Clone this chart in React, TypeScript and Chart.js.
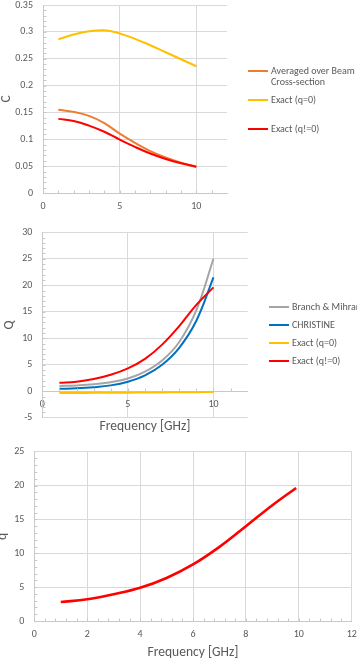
import React, { useEffect, useRef } from 'react';
import { Chart, registerables } from 'chart.js';

Chart.register(...registerables);

// ---------- data ----------
const FREQ = [1, 2, 3, 4, 5, 6, 7, 8, 9, 10];

// Chart 1 (C)
const C_AVERAGED = [0.155, 0.151, 0.1435, 0.13, 0.1105, 0.0935, 0.078, 0.066, 0.0565, 0.049];
const C_EXACT_Q0 = [0.286, 0.295, 0.301, 0.303, 0.297, 0.287, 0.275, 0.262, 0.249, 0.236];
const C_EXACT_QN = [0.138, 0.134, 0.1255, 0.114, 0.0995, 0.0858, 0.0735, 0.0634, 0.0553, 0.049];
const C_X_TICKS = [0, 5, 10];
const C_Y_TICKS = [0, 0.05, 0.1, 0.15, 0.2, 0.25, 0.3, 0.35];

// Chart 2 (Q)
const Q_BRANCH = [1.0, 1.1, 1.3, 1.7, 2.4, 3.7, 5.8, 9.3, 15.3, 25.0];
const Q_CHRISTINE = [0.45, 0.55, 0.75, 1.1, 1.8, 3.0, 5.0, 8.2, 13.3, 21.5];
const Q_EXACT_Q0 = [-0.35, -0.33, -0.31, -0.29, -0.27, -0.25, -0.22, -0.2, -0.18, -0.15];
const Q_EXACT_QN = [1.6, 1.8, 2.3, 3.1, 4.3, 6.1, 8.8, 12.3, 16.3, 19.6];
const Q_X_TICKS = [0, 5, 10];
const Q_Y_TICKS = [-5, 0, 5, 10, 15, 20, 25, 30];

// Chart 3 (q)
const SMALLQ_FREQ = [1, 2, 3, 4, 5, 6, 7, 8, 9, 9.9];
const SMALLQ = [2.8, 3.2, 3.95, 4.9, 6.35, 8.35, 10.95, 14.0, 17.1, 19.65];
const SQ_X_TICKS = [0, 2, 4, 6, 8, 10, 12];
const SQ_Y_TICKS = [0, 5, 10, 15, 20, 25];

// ---------- style ----------
const FONT = 'Calibri, Carlito, Lato, "Open Sans", sans-serif';
const TXT = '#595959';
const GRID = '#D9D9D9';
const AXIS = '#C8C8C8';
const NONE = 'rgba(0,0,0,0)';
const TICK_FONT = { size: 10, lineHeight: 1 };
const TITLE_FONT = { size: 13.5 };

const pts = (xs: number[], ys: number[]) => xs.map((x, i) => ({ x, y: ys[i] }));
const fixTicks = (vals: number[]) => (scale: any) => {
  scale.ticks = vals.map((v) => ({ value: v }));
};
const fmt = (v: any) => String(+Number(v).toFixed(2));

const minorTicksPlugin = {
  id: 'minorTicks',
  afterDraw(chart: any, _args: any, opts: any) {
    if (!opts || !opts.xStep) return;
    const { ctx, chartArea, scales } = chart;
    const xs = scales.x;
    const ys = scales.y;
    const len = opts.len || 3;
    ctx.save();
    ctx.strokeStyle = AXIS;
    ctx.lineWidth = 1;
    const xAxisY = opts.xAtZero ? Math.round(ys.getPixelForValue(0)) + 0.5 : Math.round(chartArea.bottom) + 0.5;
    const xMin = xs.min, xMax = xs.max;
    const nX = Math.round((xMax - xMin) / opts.xStep);
    ctx.beginPath();
    for (let i = 1; i < nX; i++) {
      const px = Math.round(xs.getPixelForValue(xMin + i * opts.xStep)) + 0.5;
      ctx.moveTo(px, xAxisY);
      ctx.lineTo(px, xAxisY - len);
    }
    const yMin = ys.min, yMax = ys.max;
    const nY = Math.round((yMax - yMin) / opts.yStep);
    const lx = Math.round(chartArea.left) + 0.5;
    for (let i = 1; i < nY; i++) {
      const py = Math.round(ys.getPixelForValue(yMin + i * opts.yStep)) + 0.5;
      ctx.moveTo(lx, py);
      ctx.lineTo(lx + len, py);
    }
    ctx.stroke();
    ctx.restore();
  },
};

const sideLegendPlugin = {
  id: 'sideLegend',
  afterDraw(chart: any, _args: any, opts: any) {
    if (!opts || !opts.ys) return;
    const { ctx } = chart;
    ctx.save();
    ctx.font = `${opts.fontSize}px ${FONT}`;
    ctx.fillStyle = TXT;
    ctx.textBaseline = 'middle';
    ctx.textAlign = 'left';
    chart.data.datasets.forEach((ds: any, i: number) => {
      const y = opts.ys[i];
      ctx.strokeStyle = ds.borderColor;
      ctx.lineWidth = 2;
      ctx.beginPath();
      ctx.moveTo(opts.x, y);
      ctx.lineTo(opts.x + opts.lineLen, y);
      ctx.stroke();
      const words = String(ds.label).split(' ');
      const lines: string[] = [];
      let cur = '';
      words.forEach((w) => {
        const t = cur ? cur + ' ' + w : w;
        if (cur && ctx.measureText(t).width > opts.maxWidth) {
          lines.push(cur);
          cur = w;
        } else cur = t;
      });
      if (cur) lines.push(cur);
      lines.forEach((ln, k) => {
        ctx.fillText(ln, opts.x + opts.lineLen + opts.gap, y + k * opts.lineHeight);
      });
    });
    ctx.restore();
  },
};

Chart.register(minorTicksPlugin, sideLegendPlugin);
Chart.defaults.font.family = FONT;
Chart.defaults.color = TXT;

const baseElements = {
  point: { radius: 0 },
  line: { borderWidth: 2, tension: 0.4 },
};

const gridOpts = (tickLength: number) => ({
  color: GRID,
  drawTicks: true,
  tickLength,
  tickColor: NONE,
});

function makeConfig1(): any {
  return {
    type: 'line',
    data: {
      datasets: [
        { label: 'Averaged over Beam Cross-section', data: pts(FREQ, C_AVERAGED), borderColor: '#ED7D31', order: 3 },
        { label: 'Exact (q=0)', data: pts(FREQ, C_EXACT_Q0), borderColor: '#FFC000', order: 2 },
        { label: 'Exact (q!=0)', data: pts(FREQ, C_EXACT_QN), borderColor: '#FF0000', order: 1 },
      ],
    },
    options: {
      animation: false,
      responsive: false,
      events: [],
      layout: { padding: { left: 0, top: 5, right: 130, bottom: 0 } },
      elements: baseElements,
      plugins: {
        legend: { display: false },
        tooltip: { enabled: false },
        minorTicks: { xStep: 1, yStep: 0.01, len: 3 },
        sideLegend: { x: 248, ys: [71, 100, 129], lineLen: 20, gap: 3, lineHeight: 11.5, maxWidth: 86, fontSize: 10 },
      },
      scales: {
        x: {
          type: 'linear', min: 0, max: 12,
          afterBuildTicks: fixTicks(C_X_TICKS),
          afterFit: (s: any) => { s.height = 22; },
          grid: gridOpts(8),
          border: { color: AXIS },
          ticks: { color: TXT, font: TICK_FONT, padding: 0, callback: fmt },
        },
        y: {
          type: 'linear', min: 0, max: 0.35,
          afterBuildTicks: fixTicks(C_Y_TICKS),
          afterFit: (s: any) => { s.width = 43; },
          grid: gridOpts(10),
          border: { color: AXIS },
          ticks: { color: TXT, font: TICK_FONT, padding: 0, callback: fmt },
          title: { display: true, text: 'C', color: TXT, font: TITLE_FONT, padding: { top: -1, bottom: 0 } },
        },
      },
    },
  };
}

function makeConfig2(): any {
  return {
    type: 'line',
    data: {
      datasets: [
        { label: 'Branch & Mihran', data: pts(FREQ, Q_BRANCH), borderColor: '#A5A5A5', order: 4 },
        { label: 'CHRISTINE', data: pts(FREQ, Q_CHRISTINE), borderColor: '#0070C0', order: 3 },
        { label: 'Exact (q=0)', data: pts(FREQ, Q_EXACT_Q0), borderColor: '#FFC000', order: 2 },
        { label: 'Exact (q!=0)', data: pts(FREQ, Q_EXACT_QN), borderColor: '#FF0000', order: 1 },
      ],
    },
    options: {
      animation: false,
      responsive: false,
      events: [],
      layout: { padding: { left: 0, top: 17.3, right: 109.3, bottom: 27.3 } },
      elements: baseElements,
      plugins: {
        legend: { display: false },
        tooltip: { enabled: false },
        minorTicks: { xStep: 1, yStep: 1, len: 3, xAtZero: true },
        sideLegend: { x: 269, ys: [92, 110, 128, 146], lineLen: 20, gap: 3, lineHeight: 11.5, maxWidth: 200, fontSize: 10 },
      },
      scales: {
        x: {
          type: 'linear', min: 0, max: 12,
          position: { y: 0 },
          afterBuildTicks: fixTicks(Q_X_TICKS),
          afterFit: (s: any) => { s.height = 27; },
          grid: gridOpts(8.5),
          border: { color: AXIS },
          ticks: { color: TXT, font: TICK_FONT, padding: 0, callback: fmt },
          title: { display: true, text: 'Frequency [GHz]', color: TXT, font: TITLE_FONT, padding: { top: 0, bottom: -16.8 } },
        },
        y: {
          type: 'linear', min: -5, max: 30,
          afterBuildTicks: fixTicks(Q_Y_TICKS),
          afterFit: (s: any) => { s.width = 42.3; },
          grid: gridOpts(10),
          border: { color: AXIS },
          ticks: { color: TXT, font: TICK_FONT, padding: 0, callback: fmt },
          title: { display: true, text: 'Q', color: TXT, font: TITLE_FONT, padding: { top: 2, bottom: 0 } },
        },
      },
    },
  };
}

function makeConfig3(): any {
  return {
    type: 'line',
    data: {
      datasets: [
        { label: 'q', data: pts(SMALLQ_FREQ, SMALLQ), borderColor: '#FF0000', borderWidth: 2.6 },
      ],
    },
    options: {
      animation: false,
      responsive: false,
      events: [],
      layout: { padding: { left: 0, top: 11.7, right: 5.3, bottom: 0 } },
      elements: baseElements,
      plugins: {
        legend: { display: false },
        tooltip: { enabled: false },
        minorTicks: { xStep: 0.4, yStep: 1, len: 3 },
      },
      scales: {
        x: {
          type: 'linear', min: 0, max: 12,
          afterBuildTicks: fixTicks(SQ_X_TICKS),
          afterFit: (s: any) => { s.height = 38; },
          grid: gridOpts(8),
          border: { color: AXIS },
          ticks: { color: TXT, font: TICK_FONT, padding: 0, callback: fmt },
          title: { display: true, text: 'Frequency [GHz]', color: TXT, font: TITLE_FONT, padding: { top: 0, bottom: -1.8 } },
        },
        y: {
          type: 'linear', min: 0, max: 25,
          afterBuildTicks: fixTicks(SQ_Y_TICKS),
          afterFit: (s: any) => { s.width = 34.3; },
          grid: gridOpts(10),
          border: { color: AXIS },
          ticks: { color: TXT, font: TICK_FONT, padding: 0, callback: fmt },
          title: { display: true, text: 'q', color: TXT, font: TITLE_FONT, padding: { top: -5.8, bottom: 0 } },
        },
      },
    },
  };
}

function ChartCanvas({ top, height, make }: { top: number; height: number; make: () => any }) {
  const ref = useRef<HTMLCanvasElement | null>(null);
  useEffect(() => {
    if (!ref.current) return;
    const chart = new Chart(ref.current, make());
    return () => chart.destroy();
  }, [make]);
  return (
    <canvas
      ref={ref}
      width={357}
      height={height}
      style={{ position: 'absolute', left: 0, top, width: 357, height }}
    />
  );
}

export default function App() {
  return (
    <div style={{ position: 'absolute', left: 0, top: 0, width: 357, height: 659, background: '#fff', overflow: 'hidden' }}>
      <ChartCanvas top={0} height={215} make={makeConfig1} />
      <ChartCanvas top={215} height={230} make={makeConfig2} />
      <ChartCanvas top={440} height={219} make={makeConfig3} />
    </div>
  );
}
